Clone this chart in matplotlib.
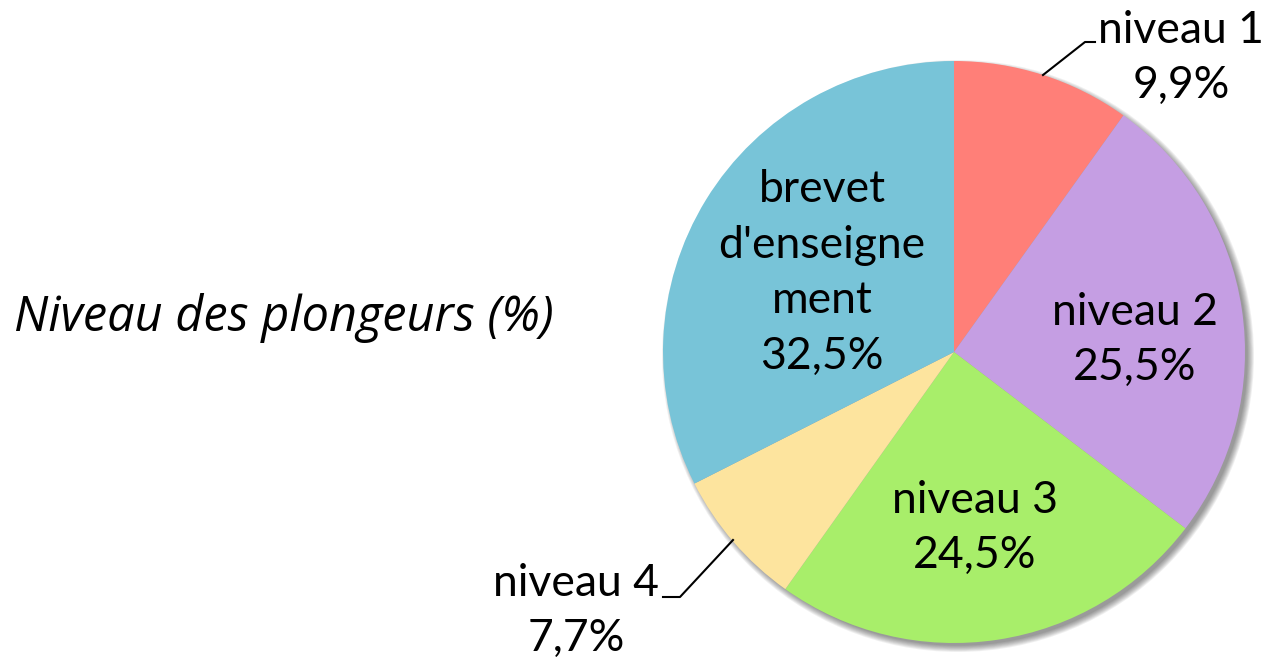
import matplotlib.pyplot as plt
from matplotlib.patches import Circle

labels = ["niveau 1", "niveau 2", "niveau 3", "niveau 4", "brevet\nd'enseigne\nment"]
values = [9.9, 25.5, 24.5, 7.7, 32.5]
colors = ["#FF7F78", "#C59EE3", "#A8EE6A", "#FDE49E", "#78C4D8"]
title = "Niveau des plongeurs (%)"

plt.rcParams['font.family'] = ['Lato', 'DejaVu Sans']

fig = plt.figure(figsize=(12.64, 6.61), dpi=100)
ax = fig.add_axes([0, 0, 1, 1])

cx, cy, r = 954, 309, 291

# soft shadow
for i in range(8):
    ax.add_patch(Circle((cx + 4, cy - 4), r + 5 - i * 0.9, color='black',
                        alpha=0.06, lw=0, zorder=0))

wedges, _ = ax.pie(values, colors=colors, startangle=90, counterclock=False,
                   center=(cx, cy), radius=r, frame=True,
                   wedgeprops=dict(linewidth=0))
ax.set_xlim(0, 1264)
ax.set_ylim(0, 661)
ax.set_aspect('equal')
ax.axis('off')

fs = 32
ls = 1.45
pct = ["{:.1f}%".format(v).replace('.', ',') for v in values]

# inside labels
ax.text(822, 661 - 273, labels[4] + "\n" + pct[4], ha='center', va='center',
        fontsize=fs, linespacing=ls)
ax.text(1135, 661 - 340, labels[1] + "\n" + pct[1], ha='center', va='center',
        fontsize=fs, linespacing=ls)
ax.text(975, 661 - 528, labels[2] + "\n" + pct[2], ha='center', va='center',
        fontsize=fs, linespacing=ls)

# outside labels with leader lines
ax.text(1181, 661 - 58, labels[0] + "\n" + pct[0], ha='center', va='center',
        fontsize=fs, linespacing=ls)
ax.plot([1043, 1085, 1095], [661 - 75, 661 - 42, 661 - 42], color='black', lw=1.5)
ax.text(576, 661 - 611, labels[3] + "\n" + pct[3], ha='center', va='center',
        fontsize=fs, linespacing=ls)
ax.plot([733, 680, 663], [661 - 540, 661 - 597, 661 - 597], color='black', lw=1.5)

ax.text(14, 661 - 318, title, ha='left', va='center',
        fontsize=35, style='italic', family=['Open Sans', 'DejaVu Sans'])

fig.savefig('out.png', dpi=100)
